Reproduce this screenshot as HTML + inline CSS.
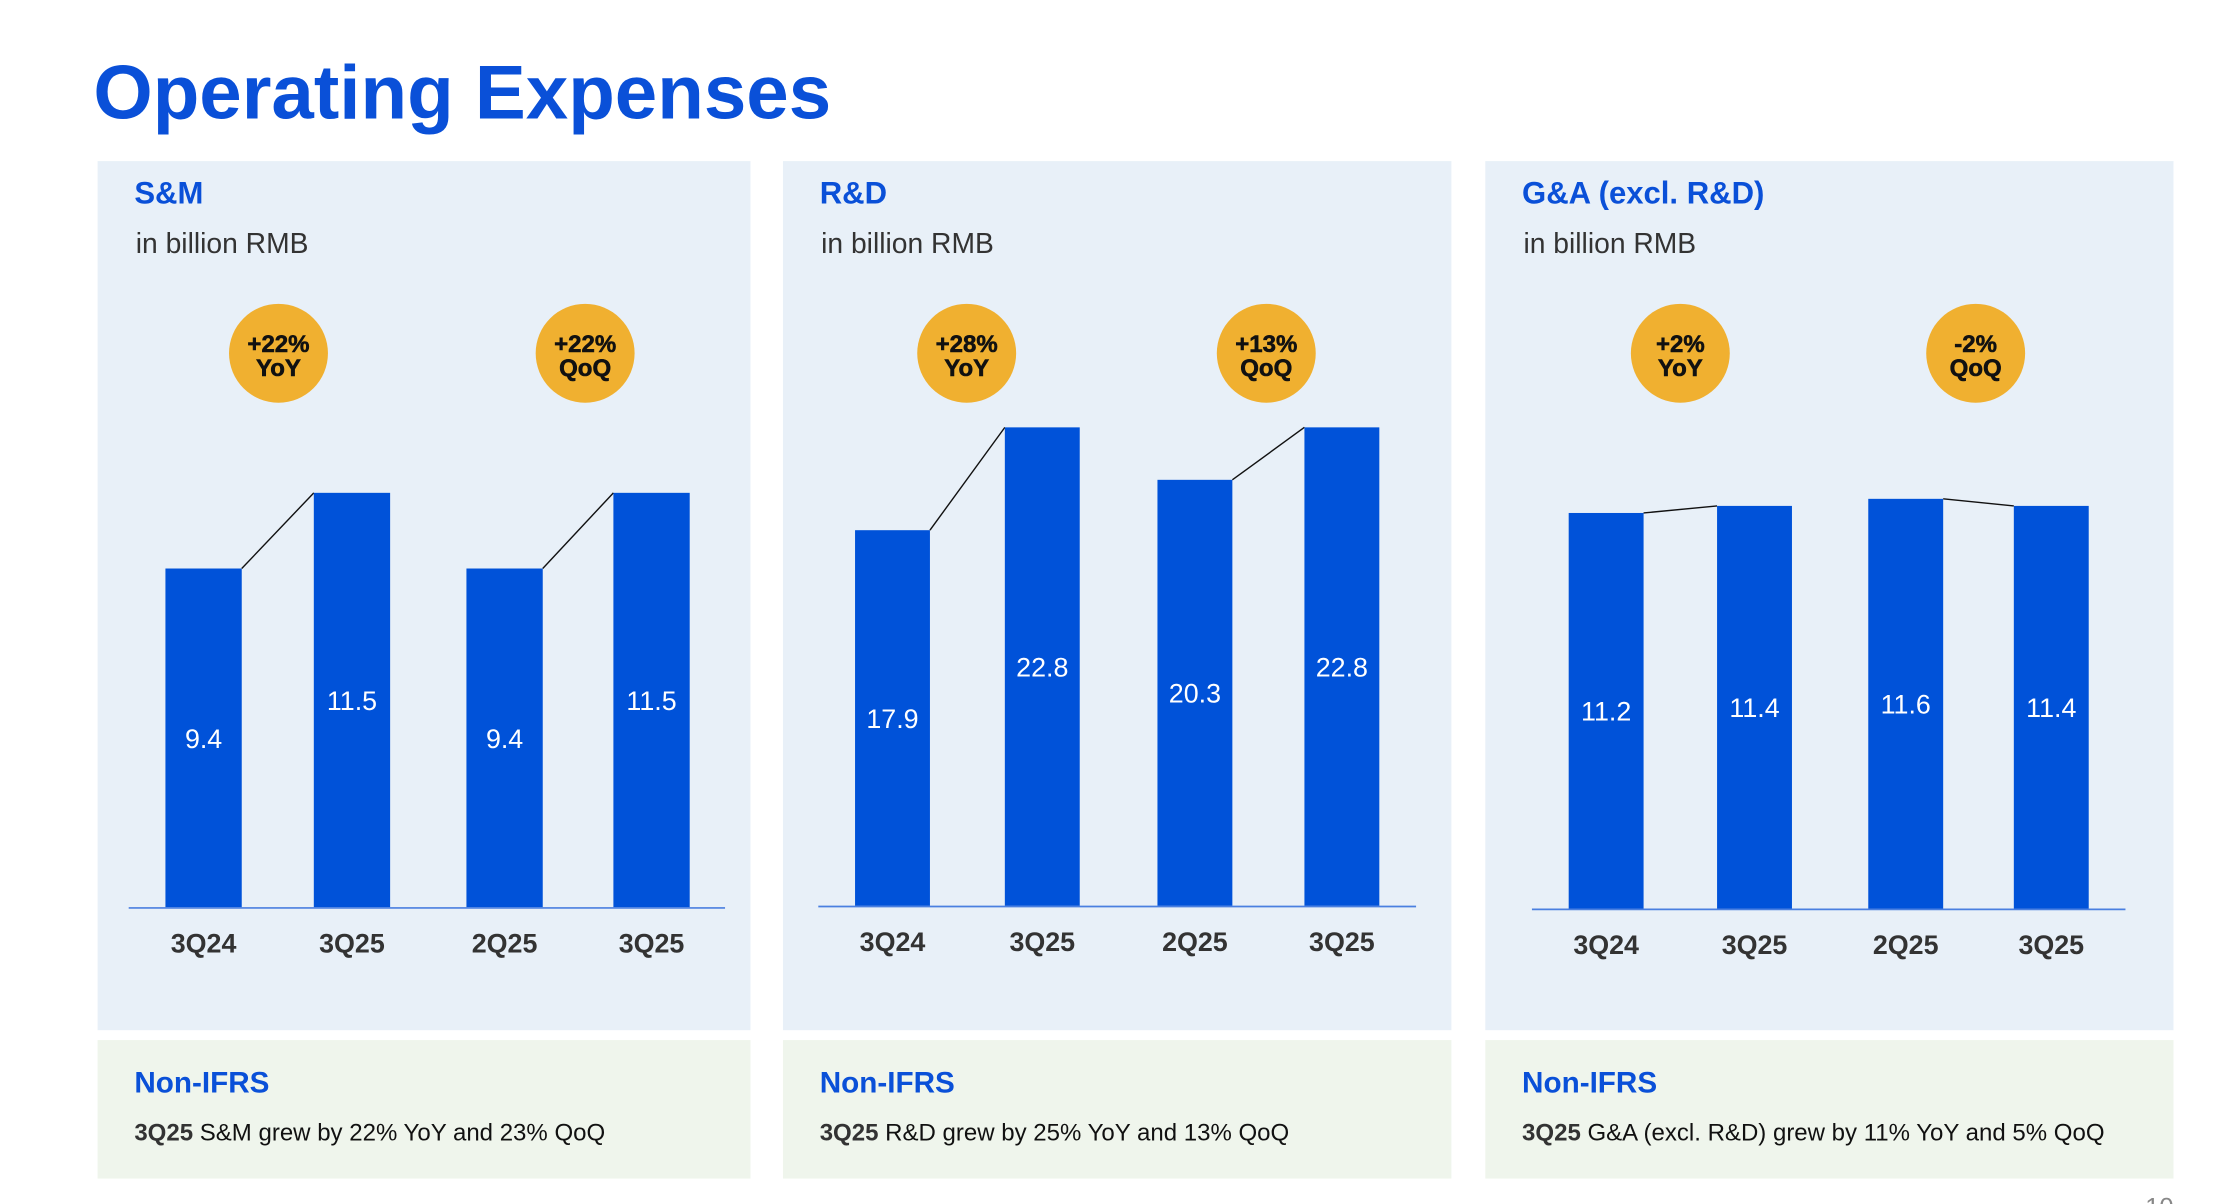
<!DOCTYPE html>
<html><head><meta charset="utf-8"><style>
html,body{margin:0;padding:0;background:#fff;}
svg{display:block;font-family:"Liberation Sans",Arial,sans-serif;}
</style></head><body>
<svg id="chart" width="2216" height="1204" viewBox="0 0 1568 852" xmlns="http://www.w3.org/2000/svg">
<text x="66" y="84" font-size="54" font-weight="bold" fill="#0a50d8">Operating Expenses</text>
<g id="panels"></g>
<text x="1518" y="860" font-size="18" fill="#888">10</text>
</svg>
<script>
const titles = ["S&M", "R&D", "G&A (excl. R&D)"];
const categories = ["3Q24", "3Q25", "2Q25", "3Q25"];
const smValues = [9.4, 11.5, 9.4, 11.5];
const rdValues = [17.9, 22.8, 20.3, 22.8];
const gaValues = [11.2, 11.4, 11.6, 11.4];
const badgePct = [["+22%", "+22%"], ["+28%", "+13%"], ["+2%", "-2%"]];
const badgeKind = ["YoY", "QoQ"];
const notes = [
  ["3Q25", " S&M grew by 22% YoY and 23% QoQ"],
  ["3Q25", " R&D grew by 25% YoY and 13% QoQ"],
  ["3Q25", " G&A (excl. R&D) grew by 11% YoY and 5% QoQ"]
];
const series = [smValues, rdValues, gaValues];

const NS = "http://www.w3.org/2000/svg";
const root = document.getElementById("panels");
function mk(tag, attrs, parent, text) {
  const e = document.createElementNS(NS, tag);
  for (const k in attrs) e.setAttribute(k, attrs[k]);
  if (text !== undefined) e.textContent = text;
  parent.appendChild(e);
  return e;
}
const layout = [
  {x0: 69, x1: 531, ax0: 91, ax1: 513, bars: [117, 222, 330, 434], bw: 54, base: 642, ppu: 25.5, badges: [197, 414]},
  {x0: 554, x1: 1027, ax0: 579, ax1: 1002, bars: [605, 711, 819, 923], bw: 53, base: 641, ppu: 14.85, badges: [684, 896]},
  {x0: 1051, x1: 1538, ax0: 1084, ax1: 1504, bars: [1110, 1215, 1322, 1425], bw: 53, base: 643, ppu: 25, badges: [1189, 1398]}
];
layout.forEach((L, p) => {
  const g = mk("g", {}, root);
  
  
  const bg = mk("rect", {x: L.x0, y: 114, width: L.x1 - L.x0, height: 615, fill: "#e8f0f8"}, g);
  
  
  const t = mk("text", {x: L.x0 + 26, y: 144, "font-size": 22, "font-weight": "bold", fill: "#0a50d8"}, g, titles[p]);
  
  
  const u = mk("text", {x: L.x0 + 27, y: 179, "font-size": 20, fill: "#333"}, g, "in billion RMB");
  
  
  const vals = series[p];
  const yOf = v => L.base - v * L.ppu;
  [[0, 1], [2, 3]].forEach(([a, b]) => {
    const ln = mk("line", {x1: L.bars[a] + L.bw, y1: yOf(vals[a]), x2: L.bars[b], y2: yOf(vals[b]), stroke: "#111", "stroke-width": 1}, g);
    
    
  });
  vals.forEach((v, i) => {
    const r = mk("rect", {x: L.bars[i], y: yOf(v), width: L.bw, height: v * L.ppu, fill: "#0052d9"}, g);
    
    
    const vl = mk("text", {x: L.bars[i] + L.bw / 2, y: (yOf(v) + L.base) / 2 + 7, "font-size": 19, fill: "#fff", "text-anchor": "middle"}, g, v.toFixed(1));
    
    
    const cl = mk("text", {x: L.bars[i] + L.bw / 2, y: L.base + 32, "font-size": 19, "font-weight": "bold", fill: "#333", "text-anchor": "middle"}, g, categories[i]);
    
    
  });
  const ax = mk("line", {x1: L.ax0, y1: L.base + 0.5, x2: L.ax1, y2: L.base + 0.5, stroke: "#4a7fe0", "stroke-width": 1.2}, g);
  
  
  L.badges.forEach((cx, j) => {
    const c = mk("circle", {cx: cx, cy: 250, r: 35, fill: "#f0b030"}, g);
    
    
    const t1 = mk("text", {x: cx, y: 249, "font-size": 17, "font-weight": "900", fill: "#111", "text-anchor": "middle", stroke: "#111", "stroke-width": 0.4}, g, badgePct[p][j]);
    
    
    const t2 = mk("text", {x: cx, y: 266, "font-size": 17, "font-weight": "900", fill: "#111", "text-anchor": "middle", stroke: "#111", "stroke-width": 0.4}, g, badgeKind[j]);
    
    
  });
  const nb = mk("rect", {x: L.x0, y: 736, width: L.x1 - L.x0, height: 98, fill: "#eff5ec"}, g);
  
  
  const nh = mk("text", {x: L.x0 + 26, y: 773, "font-size": 21, "font-weight": "bold", fill: "#0a50d8"}, g, "Non-IFRS");
  
  
  const nt = mk("text", {x: L.x0 + 26, y: 807, "font-size": 17, fill: "#111"}, g);
  
  
  mk("tspan", {"font-weight": "bold", fill: "#333"}, nt, notes[p][0]);
  mk("tspan", {}, nt, notes[p][1]);
});
</script>
</body></html>
